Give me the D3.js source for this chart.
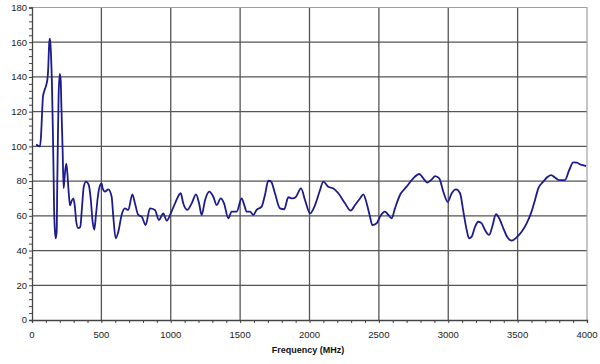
<!DOCTYPE html>
<html><head><meta charset="utf-8">
<script src="https://cdn.jsdelivr.net/npm/d3@7/dist/d3.min.js"></script>
<style>
body{margin:0;background:#fff;}
svg{display:block;font-family:"Liberation Sans",Arial,sans-serif;}
</style></head>
<body><svg id="c" width="600" height="364"></svg>
<script>
const freq = [29,43,58,65,72,79,91,103,113,118,123,127,132,137,144,151,156,159,164,171,178,182,187,192,200,207,211,221,228,236,247,254,264,274,283,298,308,319,332,348,360,373,389,409,423,437,449,461,476,492,502,
509,526,550,574,586,603,622,646,670,694,723,742,766,791,819,850,886,915,946,971,1000,1031,1072,1090,1119,1151,1182,1204,1223,1247,1278,1307,1331,1360,1384,1415,1439,1475,
1511,1530,1547,1571,1595,1619,1655,1679,1703,1723,1751,1787,1818,1847,1876,1900,1939,1968,2004,2040,2076,2099,2135,2172,2208,2256,2297,2328,2364,2388,2412,2436,2453,
2484,2508,2544,2568,2592,2616,2652,2700,2748,2791,2820,2849,2881,2905,2935,2964,2996,3025,3056,3085,3109,3133,3150,3169,3193,3217,3241,3265,3294,3317,3344,3373,3397,3421,3457,3493,3529,3565,3596,3625,3649,3685,3717,3741,3769,3798,3841,3870,3901,3926,3962,3993];
const level = [101,100.5,100,106,118,128.6,132.5,135.4,140,147,158,162,160,152.6,135,106.5,81.6,64.5,53,47,51,77.8,106.5,129.6,141.7,138,125.7,97,76,83.5,90,85.4,74,66,68,70,66,56.6,53,53.7,64.5,76.8,79.7,77.8,70,56.6,52,60.5,72,77.8,78.7,
75.8,74,75.2,71,59.5,47,50.8,60.5,64.3,63.4,72.4,67.2,60.5,59.5,54.7,64.3,63.4,57.6,61.4,57.2,61.4,67.2,73,67.2,63.4,67.2,72.4,67.2,60.5,69,74,71,66.2,70,67.2,58.6,62.4,62.4,
70,66.2,62.4,62.4,60.5,63.4,65.3,72,80.2,79.7,73,64.3,63.8,70.7,70,70.7,75.8,69,61.4,66.2,74.9,79.7,76.8,75.8,73,67.2,63,66.2,70,72.4,67.2,59.5,54.7,
55.7,59.5,62.4,60.5,58.6,64.3,72,76.8,81.6,84.1,81.6,79.1,81,82.9,81.6,74,68.1,73,75.2,73,62.4,51.8,47,48,53.7,56.6,55.7,51.8,49,53.7,60.9,57.6,52.8,48.4,45.7,47.6,50.8,55.7,61.4,69,75.8,79.7,82.5,83.5,82.1,80.6,80.6,86,90.8,90.6,89.3,88.7];
const xTicks = [0,500,1000,1500,2000,2500,3000,3500,4000];
const yTicks = [0,20,40,60,80,100,120,140,160,180];
const xTitle = "Frequency (MHz)";

const svg = d3.select("#c");
const x = d3.scaleLinear().domain([0,4000]).range([32,587]);
const y = d3.scaleLinear().domain([0,180]).range([320,7.5]);

// grid
const g = svg.append("g");
g.selectAll(".vg").data(xTicks.slice(1,-1)).join("line")
  .attr("x1",d=>x(d)).attr("x2",d=>x(d)).attr("y1",y(180)).attr("y2",y(0))
  .attr("stroke","#555").attr("stroke-width",1.3);
g.selectAll(".hg").data(yTicks.slice(1,-1)).join("line")
  .attr("x1",x(0)).attr("x2",x(4000)).attr("y1",d=>y(d)).attr("y2",d=>y(d))
  .attr("stroke","#555").attr("stroke-width",1.3);
// border top/right
g.append("path").attr("d",`M${x(0)},${y(180)}H${x(4000)}V${y(0)}`)
  .attr("fill","none").attr("stroke","#a0a0a0").attr("stroke-width",1.2);

// axes
const xa = svg.append("g").attr("transform",`translate(0,${y(0)})`)
  .call(d3.axisBottom(x).tickValues(d3.range(0,4001,100)).tickSize(3).tickFormat(""));
const ya = svg.append("g").attr("transform",`translate(${x(0)},0)`)
  .call(d3.axisLeft(y).tickValues(d3.range(0,181,4)).tickSize(3).tickFormat(""));
[xa,ya].forEach(a=>{a.select(".domain").attr("stroke","#444").attr("stroke-width",1.3);
  a.selectAll(".tick line").attr("stroke","#444");});

// labels
svg.append("g").selectAll("text").data(xTicks).join("text")
  .attr("x",d=>x(d)).attr("y",337.5).attr("text-anchor","middle")
  .attr("font-size",9.5).attr("fill","#222").text(d=>d);
svg.append("g").selectAll("text").data(yTicks).join("text")
  .attr("x",27).attr("y",d=>y(d)+3.3).attr("text-anchor","end")
  .attr("font-size",9.5).attr("fill","#222").text(d=>d);
svg.append("text").attr("x",308).attr("y",353).attr("text-anchor","middle")
  .attr("font-size",9).attr("font-weight","bold").attr("fill","#111").text(xTitle);

// line
const pts = freq.map((f,i)=>[f,level[i]]);
svg.append("path").datum(pts)
  .attr("d",d3.line().x(d=>x(d[0])).y(d=>y(d[1])).curve(d3.curveMonotoneX))
  .attr("fill","none").attr("stroke","#1c1c8c").attr("stroke-width",1.8)
  .attr("stroke-linejoin","round");
</script></body></html>
